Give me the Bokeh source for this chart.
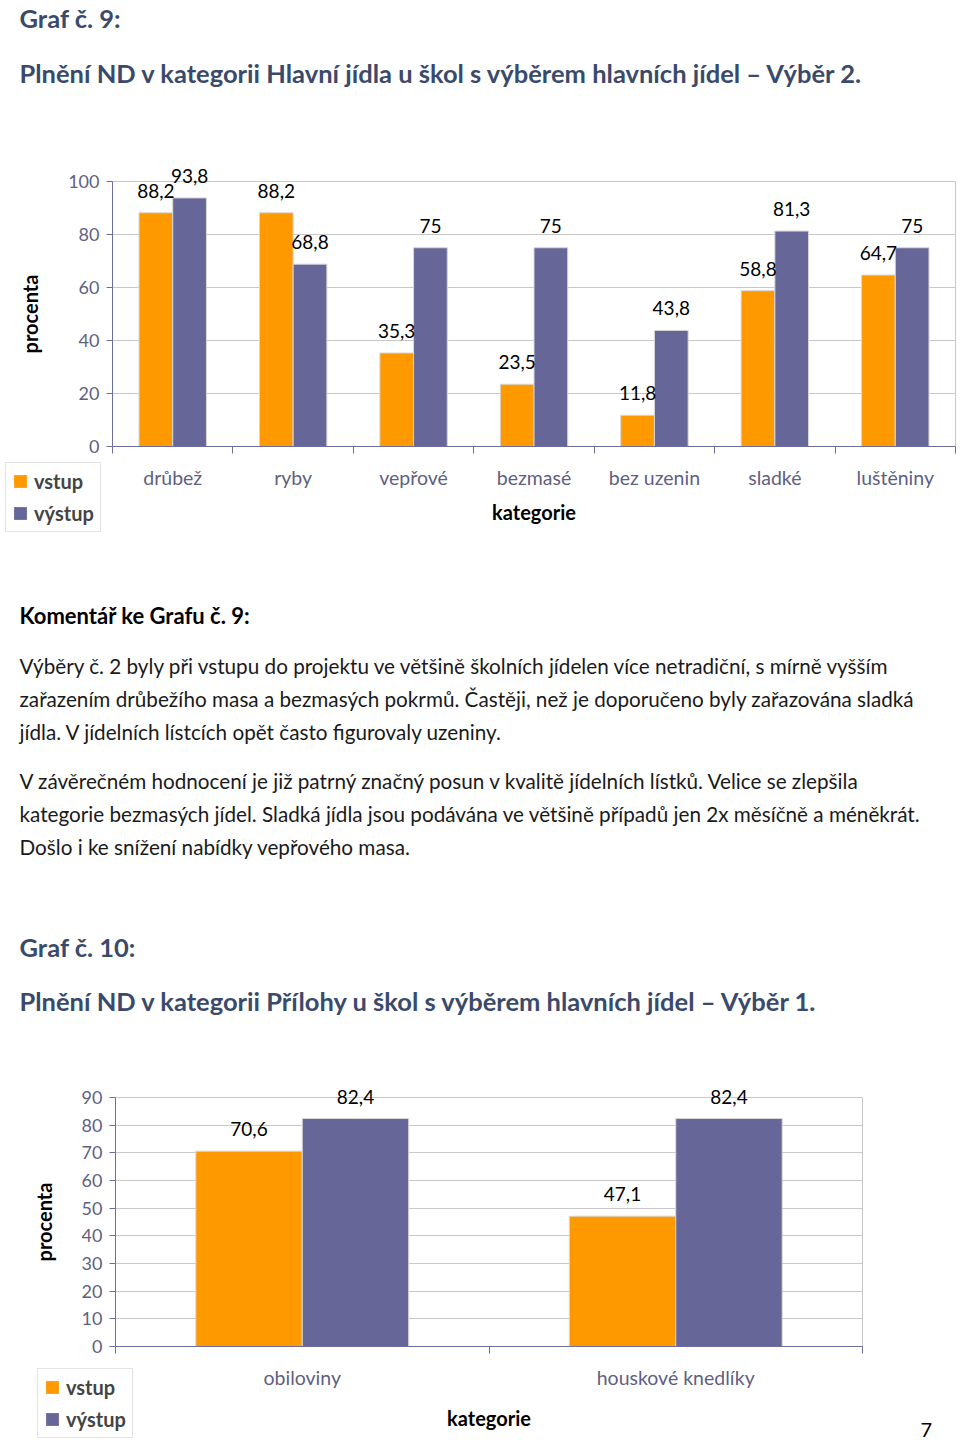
from bokeh.core.properties import value
from bokeh.embed import file_html
from bokeh.layouts import column, row
from bokeh.models import (ColumnDataSource, FixedTicker, Label, LabelSet, Legend,
                          LegendItem, LinearAxis, Range1d)
from bokeh.plotting import figure
from bokeh.resources import INLINE
from bokeh.transform import dodge

# ---------- data ----------
series = ["vstup", "výstup"]

cats9 = ["drůbež", "ryby", "vepřové", "bezmasé", "bez uzenin", "sladké", "luštěniny"]
vstup9 = [88.2, 88.2, 35.3, 23.5, 11.8, 58.8, 64.7]
vystup9 = [93.8, 68.8, 75.0, 75.0, 43.8, 81.3, 75.0]
yticks9 = [0, 20, 40, 60, 80, 100]

cats10 = ["obiloviny", "houskové knedlíky"]
vstup10 = [70.6, 47.1]
vystup10 = [82.4, 82.4]
yticks10 = [0, 10, 20, 30, 40, 50, 60, 70, 80, 90]

head9 = "Graf č. 9:"
title9 = "Plnění ND v kategorii Hlavní jídla u škol s výběrem hlavních jídel – Výběr 2."
comment_head = "Komentář ke Grafu č. 9:"
para1 = [
    "Výběry č. 2 byly při vstupu do projektu ve většině školních jídelen více netradiční, s mírně vyšším",
    "zařazením drůbežího masa a bezmasých pokrmů. Častěji, než je doporučeno byly zařazována sladká",
    "jídla. V jídelních lístcích opět často figurovaly uzeniny.",
]
para2 = [
    "V závěrečném hodnocení je již patrný značný posun v kvalitě jídelních lístků. Velice se zlepšila",
    "kategorie bezmasých jídel. Sladká jídla jsou podávána ve většině případů jen 2x měsíčně a méněkrát.",
    "Došlo i ke snížení nabídky vepřového masa.",
]
head10 = "Graf č. 10:"
title10 = "Plnění ND v kategorii Přílohy u škol s výběrem hlavních jídel – Výběr 1."
page_no = "7"

# ---------- style ----------
ORANGE = "#FF9900"
PURPLE = "#666699"
AXIS = "#6E6E9C"
TICKTXT = "#5F5F82"
GRID = "#C8C8C8"
HEAD = "#3A4A6B"
FONT = "Lato"
PAGE_W = 960


def fmt(v):
    return f"{v:g}".replace(".", ",")


def text_fig(top, bottom, items):
    p = figure(width=PAGE_W, height=bottom - top, output_backend="svg",
               toolbar_location=None, x_range=Range1d(0, PAGE_W),
               y_range=Range1d(bottom, top), min_border=0)
    p.axis.visible = False
    p.grid.visible = False
    p.outline_line_color = None
    for x, y, txt, size, style, color in items:
        p.text(x=[x], y=[y], text=[txt], text_font=value(FONT),
               text_font_size=value(size), text_font_style=style,
               text_color=color, text_baseline="middle", text_align="left")
    return p


def bar_chart(cats, a, b, yticks, ymax, height, borders, legend_xy, bw,
              xlabel_standoff=8, extra=None):
    """Base figure with axes and bars, plus a transparent overlay of the same size
    (same data mapping) for the value labels and the legend, which lie outside the frame."""
    n = len(cats)
    centers = [i + 0.5 for i in range(n)]
    src = ColumnDataSource(dict(x=centers, a=a, b=b,
                                la=[fmt(v) for v in a], lb=[fmt(v) for v in b]))
    top, right, bottom, left = borders
    p = figure(width=PAGE_W, height=height, output_backend="svg", toolbar_location=None,
               x_range=Range1d(0, n), y_range=Range1d(0, ymax),
               x_axis_location=None, y_axis_location=None,
               min_border_top=top, min_border_right=right,
               min_border_bottom=bottom, min_border_left=left)
    p.outline_line_color = GRID
    p.xgrid.visible = False
    p.ygrid.ticker = FixedTicker(ticks=yticks)
    p.ygrid.grid_line_color = GRID

    p.vbar(x=dodge("x", -bw / 2), top="a", width=bw, source=src,
           fill_color=ORANGE, line_color="#D8D8D8", line_width=1)
    p.vbar(x=dodge("x", bw / 2), top="b", width=bw, source=src,
           fill_color=PURPLE, line_color="#D8D8D8", line_width=1)

    yax = LinearAxis(ticker=FixedTicker(ticks=yticks), axis_label="procenta")
    yax.axis_line_color = AXIS
    yax.major_tick_line_color = AXIS
    yax.major_tick_out = 6
    yax.major_tick_in = 0
    yax.minor_tick_line_color = None
    yax.major_label_standoff = 7
    yax.major_label_text_font = FONT
    yax.major_label_text_font_size = "18px"
    yax.major_label_text_color = TICKTXT
    yax.axis_label_standoff = 23
    yax.axis_label_text_font = FONT
    yax.axis_label_text_font_size = "20px"
    yax.axis_label_text_font_style = "bold"
    yax.axis_label_text_color = "black"
    p.add_layout(yax, "left")

    xax = LinearAxis(ticker=FixedTicker(ticks=centers, minor_ticks=list(range(n + 1))),
                     axis_label="kategorie")
    xax.major_label_overrides = {c: name for c, name in zip(centers, cats)}
    xax.axis_line_color = AXIS
    xax.major_tick_line_color = None
    xax.major_tick_out = 0
    xax.major_tick_in = 0
    xax.minor_tick_line_color = AXIS
    xax.minor_tick_out = 7
    xax.minor_tick_in = 0
    xax.major_label_standoff = 12
    xax.major_label_text_font = FONT
    xax.major_label_text_font_size = "19.5px"
    xax.major_label_text_color = TICKTXT
    xax.axis_label_standoff = xlabel_standoff
    xax.axis_label_text_font = FONT
    xax.axis_label_text_font_size = "20px"
    xax.axis_label_text_font_style = "bold"
    xax.axis_label_text_color = "black"
    p.add_layout(xax, "below")

    # overlay: same size, frame = whole figure, ranges widened so data maps onto the base frame
    ux = n / (PAGE_W - left - right)
    uy = ymax / (height - top - bottom)
    ov = figure(width=PAGE_W, height=height, output_backend="svg", toolbar_location=None,
                x_range=Range1d(-left * ux, n + right * ux),
                y_range=Range1d(-bottom * uy, ymax + top * uy), min_border=0)
    ov.axis.visible = False
    ov.grid.visible = False
    ov.outline_line_color = None
    ov.background_fill_color = None
    ov.border_fill_color = None

    for col, lab, off in (("a", "la", -bw / 2), ("b", "lb", bw / 2)):
        ov.add_layout(LabelSet(x=dodge("x", off), y=col, text=lab, source=src,
                               text_align="center", text_baseline="middle",
                               y_offset=22, text_font=value(FONT),
                               text_font_size="19px", text_color="black"))

    # legend keys: zero-height bars placed left of the visible area
    key_x = [-left * ux * 3]
    ka = ov.vbar(x=key_x, top=[0], width=bw, fill_color=ORANGE, line_color=None)
    kb = ov.vbar(x=key_x, top=[0], width=bw, fill_color=PURPLE, line_color=None)
    legend = Legend(items=[LegendItem(label=series[0], renderers=[ka]),
                           LegendItem(label=series[1], renderers=[kb])],
                    location=legend_xy)
    legend.label_text_font = FONT
    legend.label_text_font_size = "20px"
    legend.label_text_font_style = "bold"
    legend.glyph_width = 16
    legend.glyph_height = 16
    legend.label_height = 22
    legend.label_standoff = 6
    legend.spacing = 8
    legend.padding = 6
    legend.margin = 0
    legend.border_line_color = GRID
    legend.background_fill_alpha = 1
    ov.add_layout(legend)

    if extra:
        ov.add_layout(extra)
    return p, ov


# ---------- page (coordinates in page pixels) ----------
head_a = text_fig(0, 140, [
    (19, 17, head9, "25.5px", "bold", HEAD),
    (19, 72, title9, "25.5px", "bold", HEAD),
])

chart9, over9 = bar_chart(cats9, vstup9, vystup9, yticks9, 100, 405,
                          (41, 5, 99, 112), (5, 13), 0.28, xlabel_standoff=8)

mid_items = [(19, 615, comment_head, "22px", "bold", "black")]
for i, line in enumerate(para1):
    mid_items.append((19, 665 + 33 * i, line, "20.7px", "normal", "#1A1A1A"))
for i, line in enumerate(para2):
    mid_items.append((19, 780 + 33 * i, line, "20.7px", "normal", "#1A1A1A"))
mid_items.append((19, 946, head10, "25.5px", "bold", HEAD))
mid_items.append((19, 1000, title10, "25.5px", "bold", HEAD))
mid = text_fig(545, 1055, mid_items)

page_label = Label(x=920, y=15, x_units="screen", y_units="screen", text=page_no,
                   text_baseline="middle", text_font=FONT, text_font_size="20px",
                   text_color="black")
chart10, over10 = bar_chart(cats10, vstup10, vystup10, yticks10, 90, 389,
                            (42, 98, 98, 115), (37, 6), 0.285, xlabel_standoff=14,
                            extra=page_label)

p = column(row(head_a),
           row(chart9), row(over9, margin=(-405, 0, 0, 0)),
           row(mid),
           row(chart10), row(over10, margin=(-389, 0, 0, 0)))

open("out.html", "w").write(file_html(p, INLINE))
